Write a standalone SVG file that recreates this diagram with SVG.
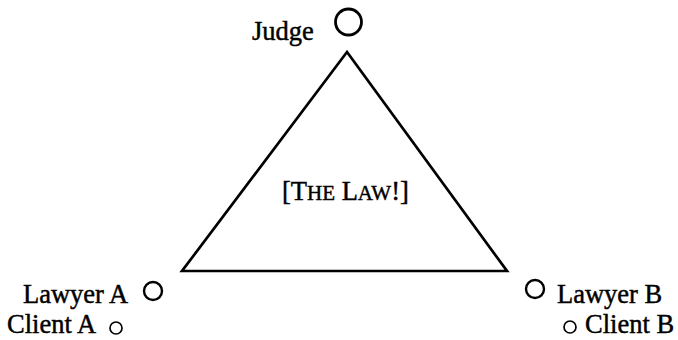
<svg xmlns="http://www.w3.org/2000/svg" width="678" height="340" viewBox="0 0 678 340">
<style>
  text { font-family: "Liberation Serif", "Times New Roman", serif; font-size: 26.5px; fill: #000; stroke: #000; stroke-width: 0.45; }
  .sc { font-size: 21px; }
  .big { fill: none; stroke: #000; stroke-width: 2.8; }
  .mid { fill: none; stroke: #000; stroke-width: 2.4; }
  .small { fill: none; stroke: #000; stroke-width: 1.7; }
  .tri { fill: none; stroke: #000; stroke-width: 2.7; stroke-linejoin: miter; }
</style>
<rect width="678" height="340" fill="#fff"/>
<g id="connectors">
  <polygon class="tri" points="347,52 182,271 507,271"/>
</g>
<g id="law">
  <text x="282" y="200">[T<tspan class="sc">HE</tspan> L<tspan class="sc">AW</tspan>!]</text>
</g>
<g id="judge">
  <circle class="big" cx="348.5" cy="22" r="13"/>
  <text x="252" y="40">Judge</text>
</g>
<g id="lawyerA">
  <circle class="mid" cx="153" cy="291" r="9"/>
  <text x="23" y="303">Lawyer A</text>
</g>
<g id="clientA">
  <circle class="small" cx="116" cy="328" r="6"/>
  <text x="7" y="333">Client A</text>
</g>
<g id="lawyerB">
  <circle class="mid" cx="535" cy="289" r="9"/>
  <text x="557" y="303">Lawyer B</text>
</g>
<g id="clientB">
  <circle class="small" cx="570" cy="327" r="6"/>
  <text x="585" y="333">Client B</text>
</g>
</svg>
